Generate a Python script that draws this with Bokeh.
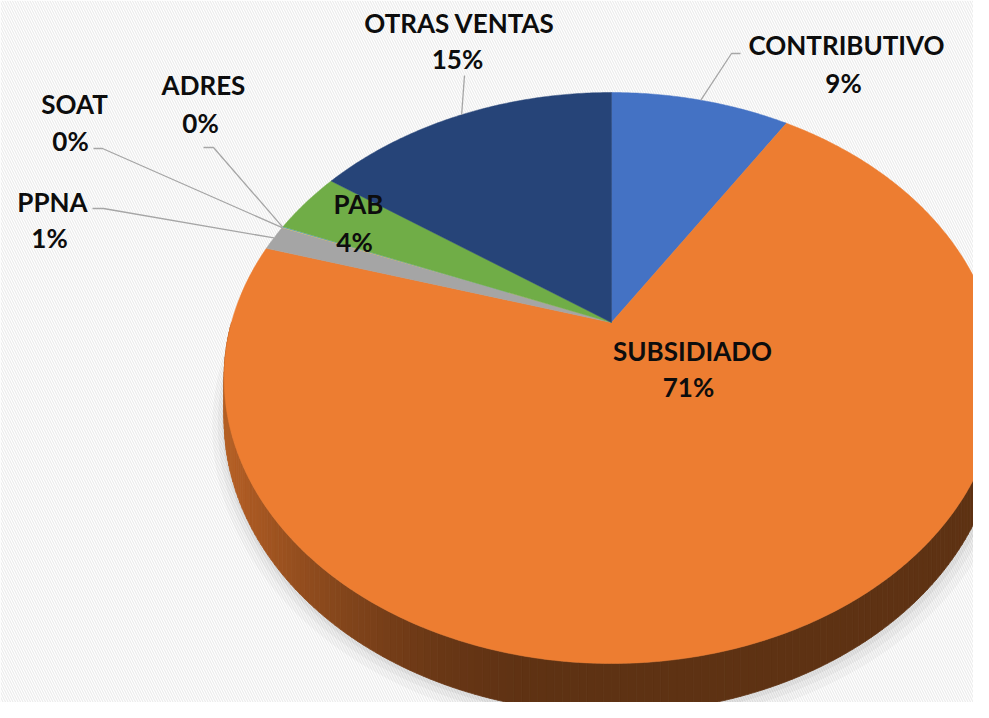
import numpy as np
from bokeh.plotting import figure
from bokeh.models import Range1d
from bokeh.embed import file_html
from bokeh.resources import INLINE
from bokeh.core.properties import value

# ---------------- data ----------------
categories = ["CONTRIBUTIVO", "SUBSIDIADO", "PPNA", "SOAT", "ADRES", "PAB", "OTRAS VENTAS"]
shares = [9.0, 70.6, 1.42, 0.03, 0.05, 3.6, 15.3]
colors = ["#4472C4", "#ED7D31", "#A5A5A5", "#FFC000", "#5B9BD5", "#70AD47", "#264478"]

# ---------------- layout (pixels) ----------------
W, H = 973, 702
CX, CY = 611.0, 322.0      # pie centre on screen
A, B, K = 380.0, 274.7, 0.1944   # perspective projection parameters
DEPTH = 40.0               # pie thickness

# label centres (name line, percent line) and leader anchors
label_name_xy = [(846, 44), (692, 350), (52, 201), (74, 103), (203, 84), (358, 203), (459, 22)]
label_pct_xy = [(843, 82), (688, 386), (49, 237), (70, 140), (200, 122), (354, 241), (457, 58)]
leaders = [(740, 731, 53), None, (92, 103, 208), (93, 102, 148), (203, 213, 147), None, (464, 464, 75)]

FONT = "Lato"


def proj(theta, drop=0.0, r=1.0):
    X = r * np.sin(theta)
    Y = r * np.cos(theta)
    w = 1.0 + K * Y
    return CX + A * X / w, CY - B * Y / w + drop / w


def hex2rgb(h):
    h = h.lstrip("#")
    return tuple(int(h[i:i + 2], 16) for i in (0, 2, 4))


def shade(hexcol, f):
    r, g, b = hex2rgb(hexcol)
    return "#%02x%02x%02x" % (int(r * f), int(g * f), int(b * f))


p = figure(width=W, height=H, x_range=Range1d(0, W), y_range=Range1d(H, 0),
           output_backend="svg", toolbar_location=None, min_border=0)
p.axis.visible = False
p.grid.visible = False
p.outline_line_color = None
p.background_fill_color = "#ffffff"
p.border_fill_color = "#ffffff"

# subtle striped background
p.quad(left=[0], right=[W], bottom=[H], top=[0], fill_color="#ffffff",
       line_color=None, hatch_pattern="\\", hatch_color="#ececec", hatch_weight=1.2, hatch_scale=5)

# soft shadow under the pie
th_all = np.linspace(0, 2 * np.pi, 361)
for r, off, a in [(1.035, 8, 0.05), (1.02, 6, 0.07), (1.008, 4, 0.09)]:
    sx, sy = proj(th_all, DEPTH, r)
    p.patch(sx + off * 0.3, sy + off * 0.4, fill_color="#7f7f7f", fill_alpha=a, line_color=None)

# angles of slices (clockwise from 12 o'clock)
total = sum(shares)
bounds = np.concatenate([[0.0], np.cumsum(shares)]) / total * 2 * np.pi
starts, ends = bounds[:-1], bounds[1:]

# side walls (front half)
side_xs, side_ys, side_cols = [], [], []
for i in range(len(shares)):
    lo = max(starts[i], np.pi / 2)
    hi = min(ends[i], 3 * np.pi / 2)
    if hi <= lo:
        continue
    n = max(2, int((hi - lo) / np.pi * 180))
    ts = np.linspace(lo, hi, n + 1)
    for t0, t1 in zip(ts[:-1], ts[1:]):
        x0, y0 = proj(t0)
        x1, y1 = proj(t1)
        x0b, y0b = proj(t0, DEPTH)
        x1b, y1b = proj(t1, DEPTH)
        mx = (x0 + x1) / 2
        t = min(max((560 - mx) / 330, 0.0), 1.0)
        f = 0.40 + 0.36 * t * t
        side_xs.append([x0, x1, x1b, x0b])
        side_ys.append([y0, y1, y1b, y0b])
        side_cols.append(shade(colors[i], f))
p.patches(side_xs, side_ys, fill_color=side_cols, line_color=side_cols, line_width=0.8)

# top faces
for i in range(len(shares)):
    n = max(2, int((ends[i] - starts[i]) / (2 * np.pi) * 720))
    ts = np.linspace(starts[i], ends[i], n + 1)
    sx, sy = proj(ts)
    xs = np.concatenate([[CX], sx])
    ys = np.concatenate([[CY], sy])
    lw = 0.5 if shares[i] >= 0.5 else 0
    p.patch(xs, ys, fill_color=colors[i], line_color=colors[i], line_width=lw)

# leader lines
lx, ly = [], []
for i, ld in enumerate(leaders):
    if ld is None:
        continue
    mid = (starts[i] + ends[i]) / 2
    ex, ey = proj(mid)
    x_start, x_elbow, y = ld
    lx.append([x_start, x_elbow, ex])
    ly.append([y, y, ey])
p.multi_line(lx, ly, line_color="#a6a6a6", line_width=1.3)

# labels
pct = ["%d%%" % int(round(v / total * 100)) for v in shares]
p.text(x=[q[0] for q in label_name_xy], y=[q[1] for q in label_name_xy], text=categories,
       text_font=value(FONT), text_font_style="bold", text_font_size="26px",
       text_align="center", text_baseline="middle", text_color="#0d0d0d")
p.text(x=[q[0] for q in label_pct_xy], y=[q[1] for q in label_pct_xy], text=pct,
       text_font=value(FONT), text_font_style="bold", text_font_size="26px",
       text_align="center", text_baseline="middle", text_color="#0d0d0d")

open("out.html", "w").write(file_html(p, INLINE))
